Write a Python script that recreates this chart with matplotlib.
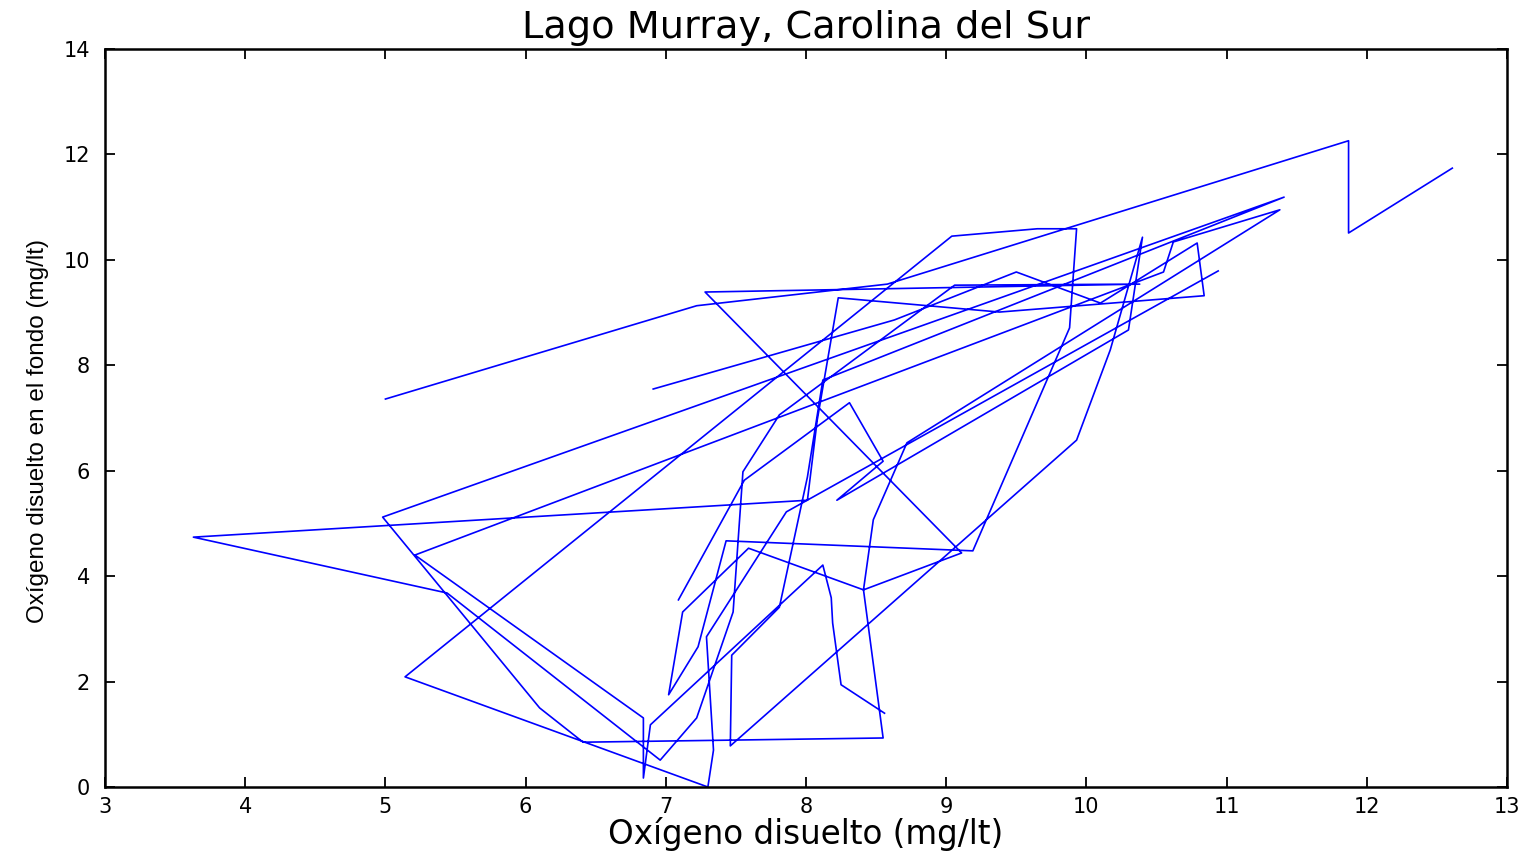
import numpy as np
import matplotlib
matplotlib.use("Agg")
import matplotlib.pyplot as plt

nan = np.nan

# Oxigeno disuelto en superficie (mg/lt) -- tramos separados por datos faltantes
od_superficie = [
    12.61, 11.87, 11.87, 8.58, 7.22, 5.00, nan,
    6.91, 8.63, 9.50, 10.10, 10.79, 10.84, 9.38, 8.23, 8.08, 8.01, 3.63, 5.44,
    6.96, 7.22, 7.48, 7.55, 7.81, 9.06, 10.38, 7.28, 9.11, 8.41, 7.59, 7.12,
    7.02, 7.23, 7.43, 9.19, 9.88, 9.93, 9.65, 9.04, 5.14, 7.30, 7.34, 7.29,
    7.86, 10.94, nan,
    7.09, 7.56, 8.31, 8.55, 8.22, 10.30, 10.40, 10.17, 9.93, 7.46, 7.47, 7.81,
    8.01, 8.12, 11.41, 4.98, 6.10, 6.41, 8.55, 8.41, 8.48, 8.72, 11.38, 10.62,
    10.55, 5.21, 6.84, 6.84, 6.89, 8.12, 8.18, 8.19, 8.25, 8.56,
]

# Oxigeno disuelto en el fondo (mg/lt)
od_fondo = [
    11.74, 10.51, 12.26, 9.54, 9.13, 7.36, nan,
    7.55, 8.86, 9.77, 9.18, 10.32, 9.32, 9.01, 9.28, 6.96, 5.44, 4.74, 3.68,
    0.51, 1.31, 3.32, 5.98, 7.06, 9.52, 9.54, 9.39, 4.44, 3.74, 4.53, 3.32,
    1.75, 2.66, 4.67, 4.48, 8.71, 10.59, 10.59, 10.45, 2.09, 0.00, 0.70, 2.85,
    5.22, 9.79, nan,
    3.55, 5.82, 7.29, 6.18, 5.44, 8.67, 10.43, 8.29, 6.58, 0.78, 2.50, 3.41,
    5.88, 7.72, 11.19, 5.12, 1.50, 0.85, 0.93, 3.74, 5.07, 6.53, 10.95, 10.34,
    9.77, 4.40, 1.31, 0.17, 1.18, 4.21, 3.59, 3.11, 1.94, 1.40,
]

x_ticks = list(range(3, 14))
y_ticks = list(range(0, 15, 2))

fig = plt.figure(figsize=(15.29, 8.51), dpi=100)
ax = fig.add_axes([0.0687, 0.0752, 0.9169, 0.8672])

ax.plot(od_superficie, od_fondo, color=(0, 0, 1), linewidth=1.2)

ax.set_xlim(3, 13)
ax.set_ylim(0, 14)
ax.set_xticks(x_ticks)
ax.set_yticks(y_ticks)
ax.tick_params(direction="in", top=True, right=True, length=7, width=1.3,
               labelsize=15)
ax.tick_params(axis="x", pad=7)
ax.tick_params(axis="y", pad=11)
for lab in ax.get_xticklabels() + ax.get_yticklabels():
    lab.set_family("DejaVu Sans")
for s in ax.spines.values():
    s.set_linewidth(1.8)

ax.set_title("Lago Murray, Carolina del Sur", fontsize=27.5,
             family="DejaVu Sans", pad=8)
ax.set_xlabel("Oxígeno disuelto (mg/lt)", fontsize=23.5,
              family="DejaVu Sans", labelpad=0)
ax.set_ylabel("Oxígeno disuelto en el fondo (mg/lt)", fontsize=17.5,
              family=["Liberation Sans", "DejaVu Sans"])
ax.yaxis.set_label_coords(-0.040, 0.482)

fig.savefig("out.png", dpi=100)
